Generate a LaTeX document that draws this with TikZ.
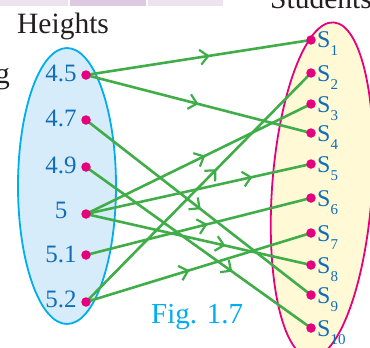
\documentclass[tikz,border=0pt]{standalone}
\usepackage{fontspec}
\setmainfont{Liberation Serif}
\usetikzlibrary{arrows.meta,decorations.markings}
\definecolor{lnGreen}{RGB}{64,173,73}
\definecolor{dotMag}{RGB}{230,0,126}
\definecolor{lblBlue}{RGB}{16,110,185}
\definecolor{cyanEdge}{RGB}{0,174,239}
\definecolor{leftFill}{RGB}{214,236,250}
\definecolor{rightFill}{RGB}{255,249,214}
\definecolor{bandA}{RGB}{236,226,240}
\definecolor{bandB}{RGB}{221,201,226}
\definecolor{txtDark}{RGB}{35,31,32}
\newcommand{\sublab}[1]{S\raisebox{-8.5pt}{\fontsize{15}{15}\selectfont #1}}
\begin{document}
\begin{tikzpicture}[x=1pt,y=-1pt,
  dot/.style={circle,fill=dotMag,inner sep=0pt,minimum size=9.5pt},
  link/.style={draw=lnGreen,line width=2.6pt},
  midarrow/.style={postaction={decorate},decoration={markings,mark=at position #1 with {\arrow{Straight Barb[length=8pt,width=15pt,line width=2.2pt,color=lnGreen]}}}},
  hlabel/.style={text=lblBlue,font=\fontsize{25}{25}\selectfont,anchor=base,inner sep=0pt},
  slabel/.style={text=lblBlue,font=\fontsize{24}{24}\selectfont,anchor=base west,inner sep=0pt},
  title/.style={text=txtDark,font=\fontsize{29.5}{29.5}\selectfont,inner sep=0pt},
]
\useasboundingbox (0,0) rectangle (370,348);
\clip (0,0) rectangle (370,348);
% top band
\fill[bandA] (0,0) rectangle (68,6);
\fill[bandB] (70,0) rectangle (146,6);
\fill[bandA] (148,0) rectangle (223,6);
% titles and fragments
\node[title,anchor=base west] (heights) at (17,34) {Heights};
\node[title,anchor=base west] (students) at (270,9) {Students};
\node[title,anchor=base east] (gfrag) at (10,83) {g};
% sets
\draw[draw=cyanEdge,fill=leftFill,line width=1.8pt] (67,186) ellipse [x radius=49, y radius=138];
\draw[draw=dotMag,fill=rightFill,line width=1.8pt,rotate around={-4:(322,190)}] (322,190) ellipse [x radius=50, y radius=168];
% element positions
\coordinate (h1) at (86,75);
\coordinate (h2) at (86,120);
\coordinate (h3) at (86,167);
\coordinate (h4) at (86,214);
\coordinate (h5) at (86,255);
\coordinate (h6) at (86,302);
\coordinate (s1) at (311,40);
\coordinate (s2) at (311,73);
\coordinate (s3) at (311,104);
\coordinate (s4) at (311,133);
\coordinate (s5) at (311,164);
\coordinate (s6) at (311,198);
\coordinate (s7) at (311,233);
\coordinate (s8) at (311,265);
\coordinate (s9) at (311,295);
\coordinate (s10) at (311,328);
% links
\draw[link,midarrow=0.55] (h1) -- (s1);
\draw[link,midarrow=0.50] (h1) -- (s4);
\draw[link,midarrow=0.51] (h2) -- (s9);
\draw[link,midarrow=0.65] (h3) -- (s10);
\draw[link,midarrow=0.53] (h4) -- (s3);
\draw[link,midarrow=0.74] (h4) -- (s5);
\draw[link,midarrow=0.62] (h4) -- (s8);
\draw[link,midarrow=0.54] (h5) -- (s6);
\draw[link,midarrow=0.58] (h6) -- (s2);
\draw[link,midarrow=0.46] (h6) -- (s7);
% dots
\foreach \n in {h1,h2,h3,h4,h5,h6,s1,s2,s3,s4,s5,s6,s7,s8,s9,s10}
  \node[dot] (d\n) at (\n) {};
% left labels
\node[hlabel] (l1) at (61,81) {4.5};
\node[hlabel] (l2) at (61,126) {4.7};
\node[hlabel] (l3) at (61,173) {4.9};
\node[hlabel] (l4) at (61,218) {5};
\node[hlabel] (l5) at (61,262) {5.1};
\node[hlabel] (l6) at (61,307) {5.2};
% right labels
\node[slabel] (r1) at (317,47) {\sublab{1}};
\node[slabel] (r2) at (317,81) {\sublab{2}};
\node[slabel] (r3) at (317,112) {\sublab{3}};
\node[slabel] (r4) at (317,141) {\sublab{4}};
\node[slabel] (r5) at (317,172) {\sublab{5}};
\node[slabel] (r6) at (317,206) {\sublab{6}};
\node[slabel] (r7) at (317,241) {\sublab{7}};
\node[slabel] (r8) at (317,273) {\sublab{8}};
\node[slabel] (r9) at (317,303) {\sublab{9}};
\node[slabel] (r10) at (317,336) {\sublab{10}};
% caption
\node[anchor=base west,text=cyanEdge,font=\fontsize{29}{29}\selectfont,inner sep=0pt] (fig) at (151,323) {Fig. 1.7};
\end{tikzpicture}
\end{document}
